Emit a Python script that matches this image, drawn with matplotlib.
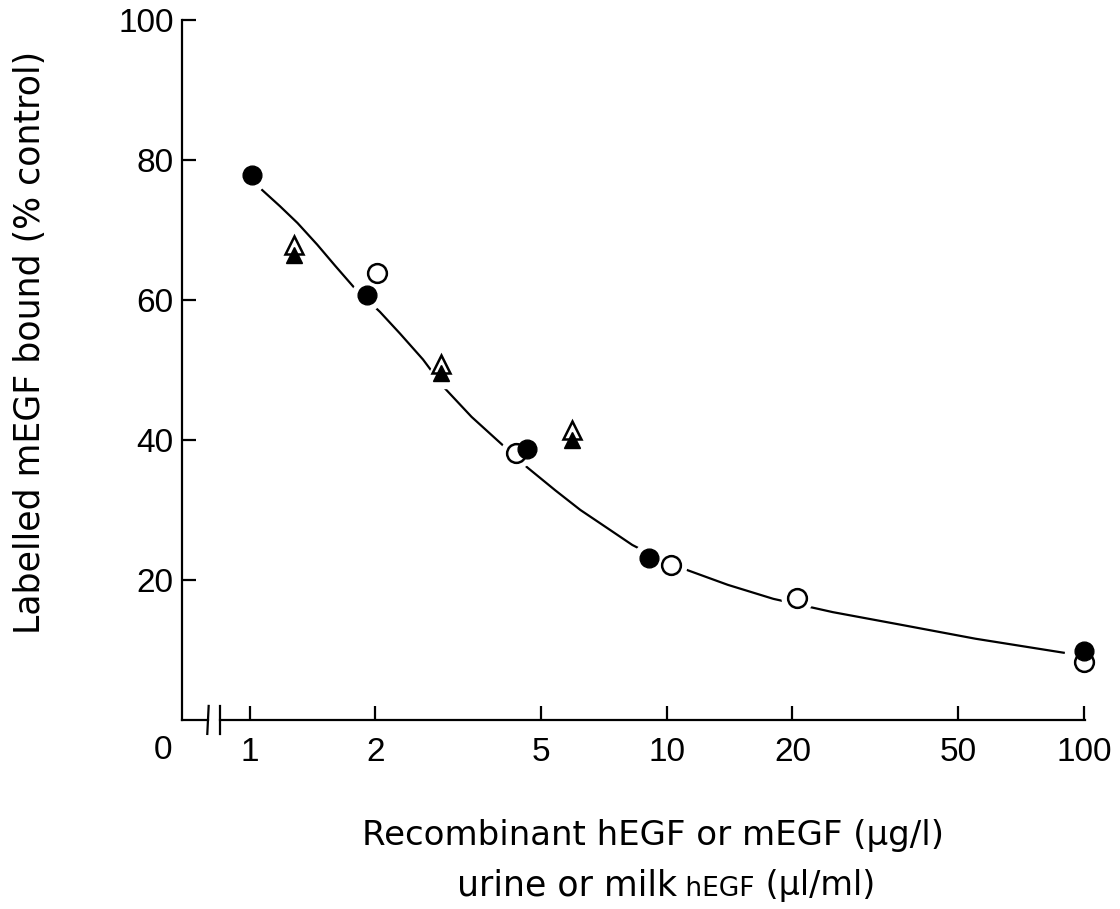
import numpy as np
import matplotlib.pyplot as plt
from matplotlib.text import Annotation

plt.rcParams['font.family'] = ['Liberation Sans', 'DejaVu Sans']

# data (x in ug/l or ul/ml, y in % control)
filled_circle_x = [1.01, 1.91, 4.62, 9.08, 100]
filled_circle_y = [77.9, 60.7, 38.7, 23.1, 9.9]
open_circle_x = [2.02, 4.35, 10.25, 20.5, 100]
open_circle_y = [63.9, 38.1, 22.1, 17.4, 8.3]
filled_tri_x = [1.275, 2.87, 5.93]
filled_tri_y = [66.4, 49.6, 40.0]
open_tri_x = [1.275, 2.87, 5.93]
open_tri_y = [67.9, 50.9, 41.4]

# hand-drawn fitted curve, read along its path
curve_x = [1.07, 1.18, 1.30, 1.45, 1.60, 1.77, 2.05, 2.29, 2.60, 2.91, 3.40, 3.98, 4.62,
           5.40, 6.20, 7.20, 8.26, 9.60, 11.2, 14.0, 18.0, 25.0, 36.4, 55.0, 89.5]
curve_y = [75.7, 73.4, 71.0, 67.9, 64.9, 61.9, 58.3, 55.2, 51.5, 47.6, 43.3, 39.6, 36.1,
           32.8, 30.0, 27.4, 25.0, 23.0, 21.4, 19.3, 17.3, 15.4, 13.6, 11.6, 9.6]

yticks = [20, 40, 60, 80, 100]
xticks = [1, 2, 5, 10, 20, 50, 100]

fig = plt.figure(figsize=(11.2, 9.09), dpi=100)
ax = fig.add_axes([0.1625, 0.208, 0.806, 0.770])

ax.set_xscale('log')
ax.set_xlim(0.687, 100.5)
ax.set_ylim(0, 100)

lw = 1.6
ax.plot(curve_x, curve_y, color='black', lw=1.6, zorder=1)

# white halos make the gaps in the curve around each symbol
for xs, ys, m in [(filled_circle_x, filled_circle_y, 'o'), (open_circle_x, open_circle_y, 'o'),
                  (filled_tri_x, filled_tri_y, '^'), (open_tri_x, open_tri_y, '^')]:
    ax.plot(xs, ys, ls='none', marker=m, ms=22, color='white', zorder=2, clip_on=False)

ax.plot(open_circle_x, open_circle_y, ls='none', marker='o', ms=13.5, mfc='white',
        mec='black', mew=1.8, zorder=3, clip_on=False)
ax.plot(filled_circle_x, filled_circle_y, ls='none', marker='o', ms=13.5, mfc='black',
        mec='black', zorder=4, clip_on=False)
ax.plot(open_tri_x, open_tri_y, ls='none', marker='^', ms=13, mfc='white',
        mec='black', mew=1.8, zorder=3, clip_on=False)
ax.plot(filled_tri_x, filled_tri_y, ls='none', marker='^', ms=12, mfc='black',
        mec='black', zorder=4, clip_on=False)

# axes styling
for s in ['top', 'right', 'bottom']:
    ax.spines[s].set_visible(False)
ax.spines['left'].set_linewidth(lw)

# bottom axis drawn by hand with a break
tr = ax.get_xaxis_transform()
ax.plot([0.687, 0.793], [0, 0], color='black', lw=lw, transform=tr, clip_on=False)
ax.plot([0.847, 100.5], [0, 0], color='black', lw=lw, transform=tr, clip_on=False)
ax.plot([0.790, 0.796], [-0.02, 0.02], color='black', lw=lw, transform=tr, clip_on=False)
ax.plot([0.847, 0.847], [-0.02, 0.02], color='black', lw=lw, transform=tr, clip_on=False)

ax.set_yticks(yticks)
ax.set_xticks(xticks)
ax.set_xticklabels([str(v) for v in xticks])
ax.xaxis.set_minor_locator(plt.NullLocator())
ax.tick_params(axis='both', direction='in', length=10, width=lw, labelsize=24)
ax.tick_params(axis='x', pad=12)
ax.tick_params(axis='y', pad=6)
ax.text(0.618, -0.043, '0', transform=tr, fontsize=24, ha='center', va='center')

ax.set_ylabel('Labelled mEGF bound (% control)', family=['DejaVu Sans'], fontsize=25)
ax.yaxis.set_label_coords(-0.1495, 0.54)

fig.text(0.583, 0.081, 'Recombinant hEGF or mEGF (\u03bcg/l)', ha='center', va='center',
         family=['DejaVu Sans'], fontsize=24.5)
t1 = fig.text(0.408, 0.026, 'urine or milk', ha='left', va='center',
              family=['DejaVu Sans'], fontsize=25)
t2 = fig.add_artist(Annotation(' hEGF', xy=(1, 0), xycoords=t1, va='bottom', ha='left',
                               family=['DejaVu Sans'], fontsize=19))
t3 = fig.add_artist(Annotation(' (\u03bcl/ml)', xy=(1, 0), xycoords=t2, va='bottom', ha='left',
                               family=['DejaVu Sans'], fontsize=24))

fig.savefig('out.png', dpi=100)
